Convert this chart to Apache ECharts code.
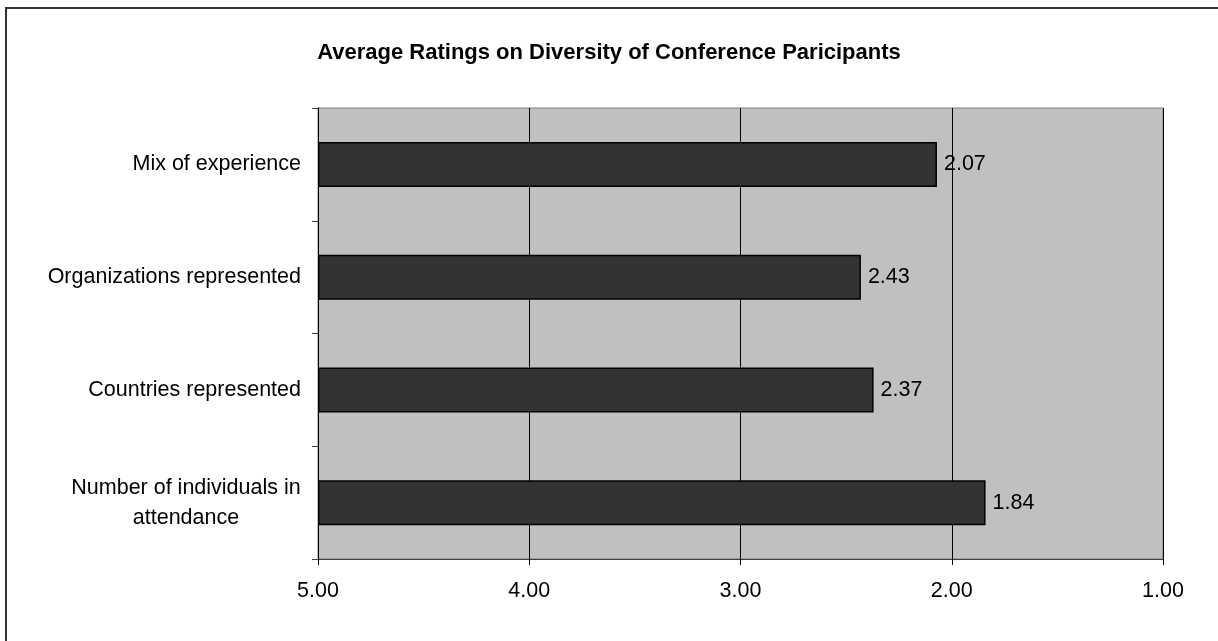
<!DOCTYPE html>
<html>
<head>
<meta charset="utf-8">
<script src="https://cdn.jsdelivr.net/npm/echarts@6/dist/echarts.min.js"></script>
<style>
  html, body { margin: 0; padding: 0; background: #fff; }
  #main { width: 1218px; height: 641px; }
</style>
</head>
<body>
<div id="main"></div>
<script>
// categories top to bottom
var categories = [
  "Mix of experience",
  "Organizations represented",
  "Countries represented",
  "Number of individuals in attendance"
];
var ratings = [2.07, 2.43, 2.37, 1.84];
// axis runs 5.00 -> 1.00 left to right
var scaleTop = 5;
var scaleBottom = 1;

var myChart = echarts.init(document.getElementById("main"));
var font = "'Liberation Sans', Arial, sans-serif";
var fs = 21.5;

var option = {
  animation: false,
  title: {
    text: "Average Ratings on Diversity of Conference Paricipants",
    left: "center",
    top: 37,
    textStyle: {
      fontFamily: font,
      fontSize: 22,
      fontWeight: "bold",
      color: "#000",
    },
  },
  graphic: [
    {
      // outer frame
      type: "rect",
      shape: { x: 6, y: 8, width: 1260, height: 700 },
      style: { fill: "none", stroke: "#333", lineWidth: 2 },
      silent: true,
    },
  ],
  grid: {
    left: 318,
    right: 55,
    top: 108,
    bottom: 82,
    show: true,
    backgroundColor: "#C0C0C0",
    borderColor: "#808080",
    borderWidth: 1,
  },
  xAxis: {
    type: "value",
    min: 0,
    max: scaleTop - scaleBottom,
    interval: 1,
    axisLine: { show: true, lineStyle: { color: "#404040", width: 1 } },
    axisTick: { show: true, length: 6, lineStyle: { color: "#000" } },
    splitLine: { show: true, lineStyle: { color: "#000", width: 1 } },
    axisLabel: {
      margin: 21,
      fontFamily: font,
      fontSize: fs,
      color: "#000",
      formatter: function (v) {
        return (scaleTop - v).toFixed(2);
      },
    },
  },
  yAxis: {
    type: "category",
    inverse: true,
    data: categories,
    axisLine: { show: true, lineStyle: { color: "#000", width: 1 } },
    axisTick: { show: true, length: 6, lineStyle: { color: "#404040" } },
    axisLabel: {
      margin: 17,
      fontFamily: font,
      fontSize: fs,
      color: "#000",
      lineHeight: 30,
      formatter: function (v) {
        if (v.length > 30) {
          // two centered lines
          return "{c|Number of individuals in}\n{c|attendance}";
        }
        return v;
      },
      rich: {
        c: {
          width: 230,
          align: "center",
          fontFamily: font,
          fontSize: fs,
          lineHeight: 30,
          color: "#000",
        },
      },
    },
  },
  series: [
    {
      type: "bar",
      data: ratings.map(function (r) {
        return scaleTop - r;
      }),
      barWidth: 45,
      itemStyle: {
        color: "#333333",
        borderColor: "#000",
        borderWidth: 1.5,
      },
      label: {
        show: true,
        position: "right",
        distance: 7,
        fontFamily: font,
        fontSize: fs,
        color: "#000",
        formatter: function (p) {
          return ratings[p.dataIndex].toFixed(2);
        },
      },
    },
  ],
};
myChart.setOption(option);
</script>
</body>
</html>
